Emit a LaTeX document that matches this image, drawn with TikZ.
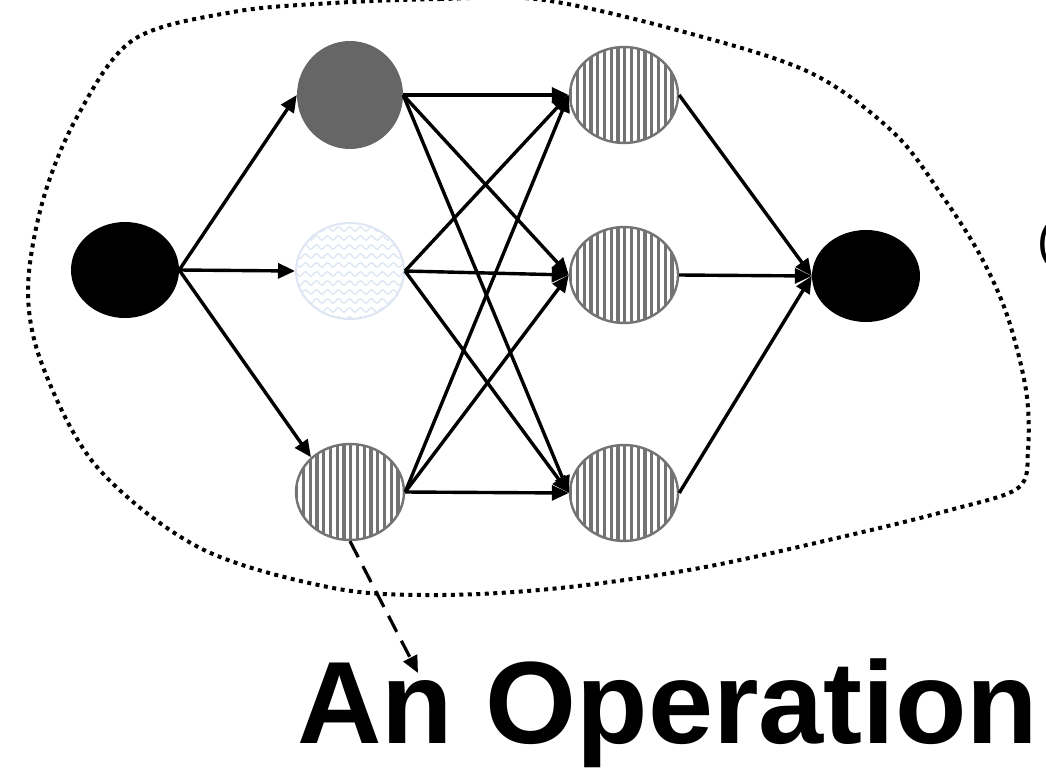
\documentclass[tikz,border=0pt]{standalone}
\usepackage{fontspec}
\setmainfont{Liberation Sans}
\usetikzlibrary{shapes.geometric,arrows.meta,decorations.pathmorphing}

\definecolor{darkop}{HTML}{666666}
\definecolor{stripegray}{HTML}{737373}
\definecolor{wavyblue}{HTML}{DDE6F2}

\tikzset{
  op/.style={ellipse, minimum width=108pt, minimum height=96pt, inner sep=0pt},
  solidop/.style={op, fill=black},
  greyop/.style={op, fill=darkop, minimum height=108pt, minimum width=106pt},
  stripedop/.style={op, draw=stripegray, line width=2.4pt, path picture={
      \foreach \i in {-60,-53.25,...,60}
        \draw[stripegray, line width=3.3pt]
          ([xshift=\i pt]path picture bounding box.south) -- ([xshift=\i pt]path picture bounding box.north);}},
  wavyop/.style={op, draw=wavyblue, line width=2pt, path picture={
      \foreach \j in {-48,-39,...,48}
        \draw[wavyblue, line width=1.3pt, decorate, decoration={snake, amplitude=2.2pt, segment length=11pt}]
          ([yshift=\j pt, xshift=-5pt]path picture bounding box.west) -- ([yshift=\j pt, xshift=5pt]path picture bounding box.east);}},
  edge/.style={line width=3.4pt, ->},
  boundary/.style={line width=4pt, dash pattern=on 4pt off 4.5pt},
  pointer/.style={line width=3.2pt, dash pattern=on 18pt off 10pt, ->}
}

\begin{document}
\begin{tikzpicture}[x=1pt, y=-1pt, >={Triangle[length=17pt,width=15pt]}]
  \path[use as bounding box, fill=white] (0,0) rectangle (1046,774);

  % Operations
  \node[solidop] (src) at (125,270) {};
  \node[greyop] (opA) at (350,95) {};
  \node[wavyop] (opB) at (350,271) {};
  \node[stripedop] (opC) at (350,492) {};
  \node[stripedop] (nxA) at (624,95) {};
  \node[stripedop] (nxB) at (624,275) {};
  \node[stripedop] (nxC) at (624,493) {};
  \node[solidop, minimum height=92pt] (sink) at (866,276) {};

  % Boundary of the cell
  \draw[boundary] plot[smooth cycle, tension=0.55] coordinates {
    (333,3) (440,-1) (544,0) (688,33) (811,73) (894,133) (943,197) (980,255)
    (1007,315) (1026,390) (1028,450) (1018,488) (950,510) (850,535) (700,568)
    (560,588) (440,595) (333,588) (200,548) (97,467) (43,367) (28,290)
    (43,200) (77,117) (133,40) (233,12)};

  % Edges into the first layer
  \draw[edge] (src.east) -- (opA.west);
  \draw[edge] (src.east) -- (opB.west);
  \draw[edge] (src.east) -- (opC.north west);

  % Edges between the layers
  \foreach \s in {opA,opB,opC}
    \foreach \t in {nxA,nxB,nxC}
      \draw[edge] (\s.east) -- (\t.west);

  % Edges into the output
  \draw[edge] (nxA.east) -- (sink.west);
  \draw[edge] (nxB.east) -- (sink.west);
  \draw[edge] (nxC.east) -- (sink.west);

  % Label
  \node[anchor=base west, inner sep=0pt] (opname) at (297,743)
    {\fontsize{117}{117}\selectfont\bfseries An Operation};
  \coordinate (optip) at (418,673);
  \draw[pointer] (opC.south) -- (optip);

  \node[anchor=base west, inner sep=0pt] (paren) at (1037,257)
    {\fontsize{50}{50}\selectfont (};
\end{tikzpicture}
\end{document}
